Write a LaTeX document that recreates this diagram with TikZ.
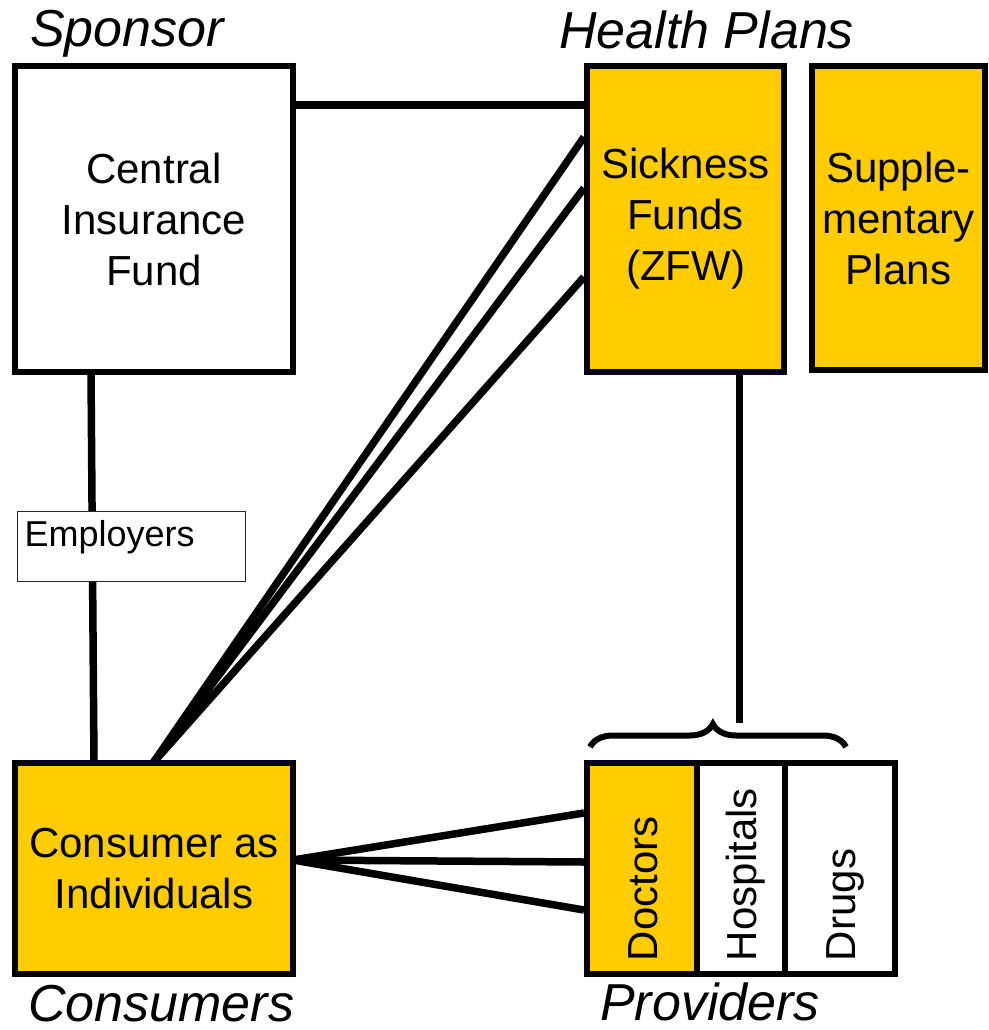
\documentclass[tikz,border=0pt]{standalone}
\usepackage{fontspec}
\setmainfont{Liberation Sans}
\usetikzlibrary{decorations.pathreplacing,calc}
\definecolor{gold}{HTML}{FFCC00}
\pgfdeclarelayer{bg}
\pgfsetlayers{bg,main}
\begin{document}
\begin{tikzpicture}[x=1pt,y=1pt,
  box/.style={draw=black,line width=6pt,inner sep=0pt,outer sep=0pt,align=center,
    font=\fontsize{42}{51}\selectfont},
  goldbox/.style={box,fill=gold},
  whitebox/.style={box,fill=white},
  link/.style={line width=7.5pt},
  heading/.style={font=\fontsize{52}{60}\selectfont\itshape,inner sep=0pt,anchor=base west},
  provbox/.style={box,rotate=90,minimum width=211pt,text width=185pt,align=left,
    inner xsep=13pt,inner ysep=0pt,text height=31pt,text depth=0pt},
  empbox/.style={draw=black!85,line width=1.5pt,fill=white,inner xsep=7pt,inner ysep=0pt,
    text width=214pt,align=left,text height=35pt,text depth=35pt,
    font=\fontsize{36}{43}\selectfont},
  bracestyle/.style={line width=6pt,decorate,decoration={brace,amplitude=23pt,aspect=0.48}}
]
\begin{pgfonlayer}{bg}
  \fill[white] (0,0) rectangle (988,-1030);
\end{pgfonlayer}
\useasboundingbox (0,0) rectangle (988,-1030);

% headings
\node[heading] (sponsor) at (30,-47) {Sponsor};
\node[heading] (hplans) at (559,-49) {Health Plans};
\node[heading] (consumers) at (28,-1021) {Consumers};
\node[heading] (providers) at (600,-1020) {Providers};

% boxes
\node[whitebox,minimum width=278pt,minimum height=306pt] (cif) at (154,-219) {Central\\Insurance\\Fund};
\node[goldbox,minimum width=197pt,minimum height=306pt] (sick) at (685.5,-219) {Sickness\\Funds\\(ZFW)};
\node[goldbox,minimum width=173pt,minimum height=304pt] (supp) at (898.5,-218) {Supple-\\mentary\\Plans};
\node[goldbox,minimum width=278pt,minimum height=211pt] (cons) at (154,-868.5) {Consumer as\\Individuals};
\node[provbox,fill=gold,minimum height=110pt] (doc) at (642,-868.5) {Doctors};
\node[provbox,fill=white,minimum height=88pt] (hosp) at (741,-868.5) {Hospitals};
\node[provbox,fill=white,minimum height=110pt] (drugs) at (840,-868.5) {Drugs};
\node[empbox] (emp) at (131.5,-546.5) {Employers};

% brace
\coordinate (bl) at (590,-747);
\coordinate (br) at (846,-747);
\coordinate (btop) at (739.5,-723);
\draw[bracestyle] (bl) -- (br);

% connectors
\begin{pgfonlayer}{bg}
  \draw[link] ($(cif.north east)+(0,-39)$) -- ($(sick.north west)+(0,-39)$);
  \draw[link] ($(cons.north)+(-1,0)$) -- ($(sick.north west)+(-3,-71)$);
  \draw[link] ($(cons.north)+(-1,0)$) -- ($(sick.north west)+(-3,-122)$);
  \draw[link] ($(cons.north)+(-1,0)$) -- ($(sick.north west)+(-3,-211)$);
  \draw[link] ($(cif.south west)+(76,0)$) -- ($(cons.north west)+(79,0)$);
  \draw[link] ($(sick.south)+(54,0)$) -- (btop);
  \draw[link] ($(cons.east)+(0,8.5)$) -- ($(doc.north)+(-3,55.5)$);
  \draw[link] ($(cons.east)+(0,8.5)$) -- ($(doc.north)+(-3,6.5)$);
  \draw[link] ($(cons.east)+(0,8.5)$) -- ($(doc.north)+(-3,-41.5)$);
\end{pgfonlayer}
\end{tikzpicture}
\end{document}
